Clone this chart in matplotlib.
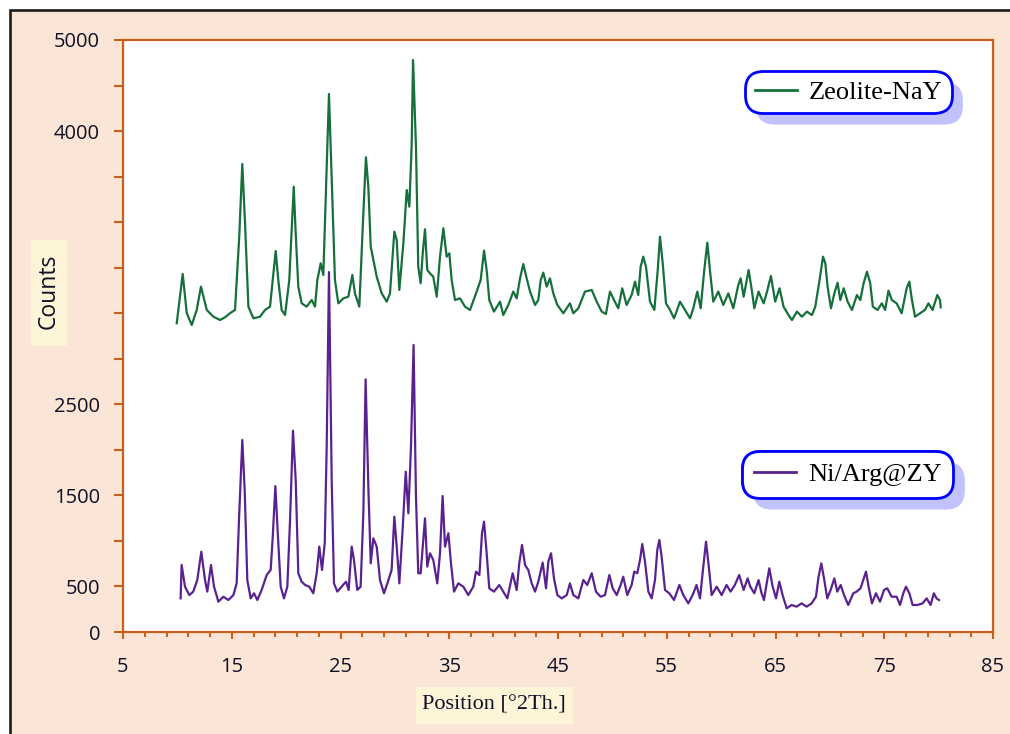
import numpy as np
import matplotlib
matplotlib.use("Agg")
import matplotlib.pyplot as plt
from matplotlib.patches import Rectangle
from matplotlib.ticker import FixedLocator, FixedFormatter

# XRD patterns: 2-theta positions (deg) and counts
zeolite_2theta = [
    9.94, 10.49, 10.86, 11.32, 11.78, 12.17, 12.70, 13.31, 13.92, 14.38,
    14.84, 15.30, 15.69, 15.97, 16.22, 16.53, 16.99, 17.60, 18.06, 18.52,
    18.77, 19.04, 19.28, 19.59, 19.90, 20.29, 20.51, 20.70, 20.88, 21.12,
    21.43, 21.89, 22.35, 22.66, 22.87, 23.18, 23.42, 23.67, 23.94, 24.19,
    24.49, 24.80, 25.26, 25.72, 26.09, 26.33, 26.73, 27.10, 27.34, 27.56,
    27.78, 28.02, 28.33, 28.79, 29.25, 29.55, 29.95, 30.17, 30.41, 30.78,
    31.09, 31.33, 31.54, 31.67, 31.94, 32.15, 32.37, 32.56, 32.77, 32.98,
    33.23, 33.53, 33.85, 34.15, 34.46, 34.76, 35.01, 35.22, 35.53, 35.99,
    36.45, 36.91, 37.52, 37.89, 38.20, 38.44, 38.68, 39.11, 39.67, 39.97,
    40.43, 40.89, 41.20, 41.51, 41.81, 42.12, 42.43, 42.89, 43.19, 43.41,
    43.65, 43.96, 44.26, 44.57, 44.94, 45.49, 46.10, 46.41, 46.87, 47.48,
    48.10, 48.56, 49.02, 49.41, 49.78, 50.15, 50.54, 50.91, 51.31, 51.77,
    52.08, 52.38, 52.60, 52.84, 53.09, 53.46, 53.86, 54.17, 54.38, 54.63,
    54.93, 55.30, 55.67, 56.22, 56.68, 57.14, 57.44, 57.81, 58.12, 58.45,
    58.73, 58.97, 59.28, 59.74, 60.20, 60.66, 61.12, 61.58, 61.80, 62.07,
    62.53, 62.84, 63.05, 63.44, 63.91, 64.22, 64.58, 64.97, 65.37, 65.74,
    66.20, 66.51, 66.97, 67.43, 67.89, 68.35, 68.66, 69.05, 69.37, 69.58,
    69.79, 70.10, 70.41, 70.71, 70.96, 71.27, 71.63, 72.03, 72.49, 72.80,
    73.10, 73.41, 73.71, 73.95, 74.38, 74.78, 75.08, 75.39, 75.70, 76.14,
    76.60, 77.06, 77.31, 77.52, 77.83, 78.29, 78.74, 79.06, 79.44, 79.88,
    80.13, 80.19,
]
zeolite_counts = [
    2607, 3024, 2694, 2593, 2720, 2917, 2720, 2663, 2635, 2658,
    2692, 2720, 3339, 3953, 3454, 2748, 2649, 2663, 2720, 2748,
    2973, 3218, 2973, 2720, 2677, 2973, 3395, 3761, 3367, 2917,
    2776, 2748, 2804, 2748, 2973, 3114, 3015, 3761, 4544, 3818,
    2973, 2776, 2818, 2832, 3015, 2860, 2748, 3536, 4009, 3761,
    3254, 3142, 3001, 2860, 2790, 2860, 3381, 3311, 2889, 3283,
    3733, 3592, 4099, 4831, 4099, 3085, 2945, 3198, 3401, 3057,
    3029, 3001, 2832, 3170, 3410, 3170, 3198, 2973, 2804, 2818,
    2748, 2720, 2875, 2973, 3221, 3057, 2804, 2706, 2790, 2677,
    2762, 2875, 2818, 2987, 3108, 2987, 2875, 2762, 2804, 2973,
    3035, 2917, 2987, 2860, 2762, 2692, 2776, 2692, 2734, 2875,
    2889, 2790, 2706, 2686, 2875, 2804, 2734, 2903, 2762, 2846,
    2959, 2846, 3085, 3170, 3085, 2790, 2720, 3057, 3339, 3114,
    2776, 2720, 2649, 2790, 2720, 2649, 2734, 2875, 2734, 3057,
    3288, 3057, 2790, 2875, 2762, 2860, 2734, 2931, 2987, 2832,
    3057, 2875, 2734, 2875, 2776, 2875, 3007, 2790, 2903, 2748,
    2677, 2635, 2706, 2663, 2706, 2677, 2748, 2973, 3170, 3114,
    2917, 2734, 2860, 2950, 2804, 2903, 2790, 2720, 2846, 2804,
    2945, 3043, 2945, 2748, 2720, 2776, 2720, 2883, 2804, 2776,
    2692, 2903, 2959, 2818, 2663, 2692, 2720, 2776, 2720, 2846,
    2804, 2742,
]

ni_2theta = [
    10.30, 10.39, 10.70, 11.10, 11.46, 11.83, 12.20, 12.54, 12.75, 13.09,
    13.37, 13.77, 14.23, 14.69, 15.15, 15.45, 15.69, 15.97, 16.19, 16.43,
    16.74, 17.05, 17.35, 17.75, 18.21, 18.58, 18.77, 19.01, 19.25, 19.50,
    19.80, 20.11, 20.36, 20.63, 20.88, 21.12, 21.43, 21.74, 22.13, 22.50,
    22.81, 23.05, 23.30, 23.55, 23.73, 23.94, 24.19, 24.40, 24.71, 25.10,
    25.51, 25.75, 26.03, 26.24, 26.54, 26.85, 27.10, 27.31, 27.56, 27.78,
    28.02, 28.33, 28.63, 29.00, 29.31, 29.70, 29.95, 30.17, 30.41, 30.71,
    31.00, 31.24, 31.48, 31.72, 31.94, 32.15, 32.37, 32.56, 32.77, 32.98,
    33.23, 33.53, 33.90, 34.15, 34.39, 34.61, 34.92, 35.16, 35.44, 35.83,
    36.29, 36.75, 37.21, 37.46, 37.77, 38.01, 38.20, 38.44, 38.68, 39.11,
    39.60, 39.97, 40.34, 40.83, 41.20, 41.44, 41.69, 41.97, 42.27, 42.58,
    42.89, 43.19, 43.59, 43.90, 44.11, 44.36, 44.63, 44.94, 45.34, 45.80,
    46.10, 46.41, 46.87, 47.33, 47.69, 48.10, 48.49, 48.92, 49.32, 49.72,
    50.03, 50.40, 50.76, 51.00, 51.37, 51.77, 52.01, 52.29, 52.54, 52.75,
    53.00, 53.31, 53.61, 53.92, 54.13, 54.32, 54.53, 54.84, 55.23, 55.67,
    56.16, 56.52, 56.98, 57.38, 57.74, 58.06, 58.36, 58.61, 58.85, 59.13,
    59.59, 60.05, 60.50, 60.87, 61.26, 61.66, 62.07, 62.44, 62.68, 63.05,
    63.44, 63.72, 63.94, 64.19, 64.43, 64.74, 65.05, 65.35, 65.65, 66.03,
    66.48, 66.94, 67.40, 67.86, 68.32, 68.72, 68.96, 69.21, 69.46, 69.76,
    70.07, 70.41, 70.68, 70.99, 71.30, 71.69, 72.15, 72.46, 72.82, 73.07,
    73.32, 73.56, 73.87, 74.24, 74.61, 74.98, 75.28, 75.68, 76.14, 76.45,
    76.75, 77.00, 77.31, 77.61, 78.04, 78.53, 78.90, 79.26, 79.56, 79.81,
    80.03,
]
ni_counts = [
    284, 566, 383, 312, 341, 439, 678, 439, 341, 566,
    383, 256, 298, 270, 312, 411, 1002, 1622, 1199, 439,
    284, 327, 270, 355, 481, 524, 805, 1233, 805, 383,
    284, 383, 946, 1700, 1284, 496, 425, 397, 383, 327,
    496, 721, 524, 749, 1565, 3040, 1284, 411, 341, 383,
    425, 355, 721, 608, 355, 383, 1002, 2134, 1227, 580,
    791, 721, 439, 327, 411, 524, 974, 721, 411, 861,
    1354, 1002, 1565, 2424, 1143, 496, 496, 721, 960, 552,
    665, 608, 411, 665, 1149, 721, 834, 580, 341, 411,
    383, 312, 383, 510, 481, 834, 932, 665, 369, 341,
    397, 341, 284, 496, 355, 580, 735, 566, 524, 411,
    341, 425, 586, 369, 594, 665, 453, 312, 284, 312,
    411, 312, 284, 439, 397, 496, 341, 298, 312, 481,
    369, 312, 397, 467, 312, 397, 510, 496, 608, 743,
    594, 341, 284, 439, 693, 777, 636, 355, 327, 270,
    397, 312, 242, 312, 397, 284, 552, 763, 566, 312,
    383, 312, 397, 341, 397, 481, 355, 453, 383, 327,
    439, 327, 270, 411, 538, 383, 284, 425, 312, 200,
    228, 214, 242, 214, 242, 298, 467, 580, 453, 284,
    355, 453, 341, 397, 312, 228, 327, 341, 369, 439,
    510, 383, 242, 327, 256, 355, 369, 298, 298, 228,
    327, 383, 327, 228, 228, 242, 284, 228, 327, 284,
    270,
]

# axis ticks and their labels (only some of the y ticks carry text)
x_major = [5, 15, 25, 35, 45, 55, 65, 75, 85]
y_ticks = np.linspace(0, 5000, 14)
y_tick_labels = ["0", "500", "", "1500", "", "2500", "", "", "", "", "", "4000", "", "5000"]

peach = "#FBE5D6"
cream = "#FEF4D8"
axis_orange = "#C8601A"
text_dark = "#101024"
green = "#15703B"
purple = "#5A2290"

W, H = 1010, 734
fig = plt.figure(figsize=(W / 100, H / 100), dpi=100, facecolor="white")
# peach background panel with dark border, kept behind the axes
fig.patches.append(Rectangle((10 / W, -0.05), 1.1, 1.05 - 10 / H,
                             transform=fig.transFigure, facecolor=peach,
                             edgecolor="#1a1a1a", linewidth=1.9, zorder=-5))

ax = fig.add_axes([123 / W, 1 - 632 / H, 870 / W, 592 / H])
ax.set_facecolor("white")

ln1, = ax.plot(zeolite_2theta, zeolite_counts, color=green, lw=1.6, label="Zeolite-NaY")
ln2, = ax.plot(ni_2theta, ni_counts, color=purple, lw=1.6, label="Ni/Arg@ZY")

ax.set_xlim(5, 85)
ax.set_ylim(0, 5000)
ax.set_xticks(x_major)
ax.xaxis.set_minor_locator(FixedLocator(np.arange(5, 86, 2)))
ax.yaxis.set_major_locator(FixedLocator(y_ticks))
ax.yaxis.set_major_formatter(FixedFormatter(y_tick_labels))

for s in ax.spines.values():
    s.set_color(axis_orange)
    s.set_linewidth(1.6)

ax.tick_params(axis="x", which="major", direction="out", length=5, width=1.5,
               color=axis_orange, pad=13, labelsize=14.5, labelcolor=text_dark)
ax.tick_params(axis="x", which="minor", direction="out", length=3.5, width=1.5,
               color=axis_orange)
ax.tick_params(axis="y", which="major", direction="out", length=6.5, width=1.5,
               color=axis_orange, pad=10, labelsize=14.5, labelcolor=text_dark)
for lab in ax.get_xticklabels() + ax.get_yticklabels():
    lab.set_family("Open Sans")

# axis titles sit on small cream boxes
fig.patches.append(Rectangle((31 / W, 1 - 346 / H), 36 / W, 106 / H,
                             transform=fig.transFigure, facecolor=cream,
                             edgecolor="none", zorder=-4))
fig.text(49 / W, 1 - 291 / H, "Counts", rotation=90, ha="center", va="center",
         fontsize=16.5, family="Open Sans", color=text_dark)
fig.patches.append(Rectangle((416 / W, 1 - 724 / H), 157 / W, 37 / H,
                             transform=fig.transFigure, facecolor=cream,
                             edgecolor="none", zorder=-4))
fig.text(494 / W, 1 - 705 / H, "Position [°2Th.]", ha="center", va="center",
         fontsize=16, family="Liberation Serif", color=text_dark)

# one rounded legend box per pattern
shadow = {"ox": 8, "oy": -8, "facecolor": "#C2C2FF", "edgecolor": "none", "alpha": 1}
legend_spots = [(ln1, (745 - 123) / 870, (632 - 71) / 592, 0.36),
                (ln2, (742 - 123) / 870, (632 - 451) / 592, 0.45)]
for handle, lx, ly, bpad in legend_spots:
    leg = ax.legend(handles=[handle], loc="upper left", bbox_to_anchor=(lx, ly),
                    borderaxespad=0, frameon=True, fancybox=True, shadow=shadow,
                    prop={"family": "Liberation Serif", "size": 19},
                    handlelength=1.6, handletextpad=0.45, borderpad=bpad)
    frame = leg.get_frame()
    frame.set_edgecolor("#0000FF")
    frame.set_linewidth(2.0)
    frame.set_facecolor("white")
    frame.set_alpha(1)
    frame.set_boxstyle("round,pad=0,rounding_size=0.7")
    for line in leg.get_lines():
        line.set_linewidth(2.0)
    ax.add_artist(leg)

fig.savefig("out.png", dpi=100, facecolor=fig.get_facecolor())
